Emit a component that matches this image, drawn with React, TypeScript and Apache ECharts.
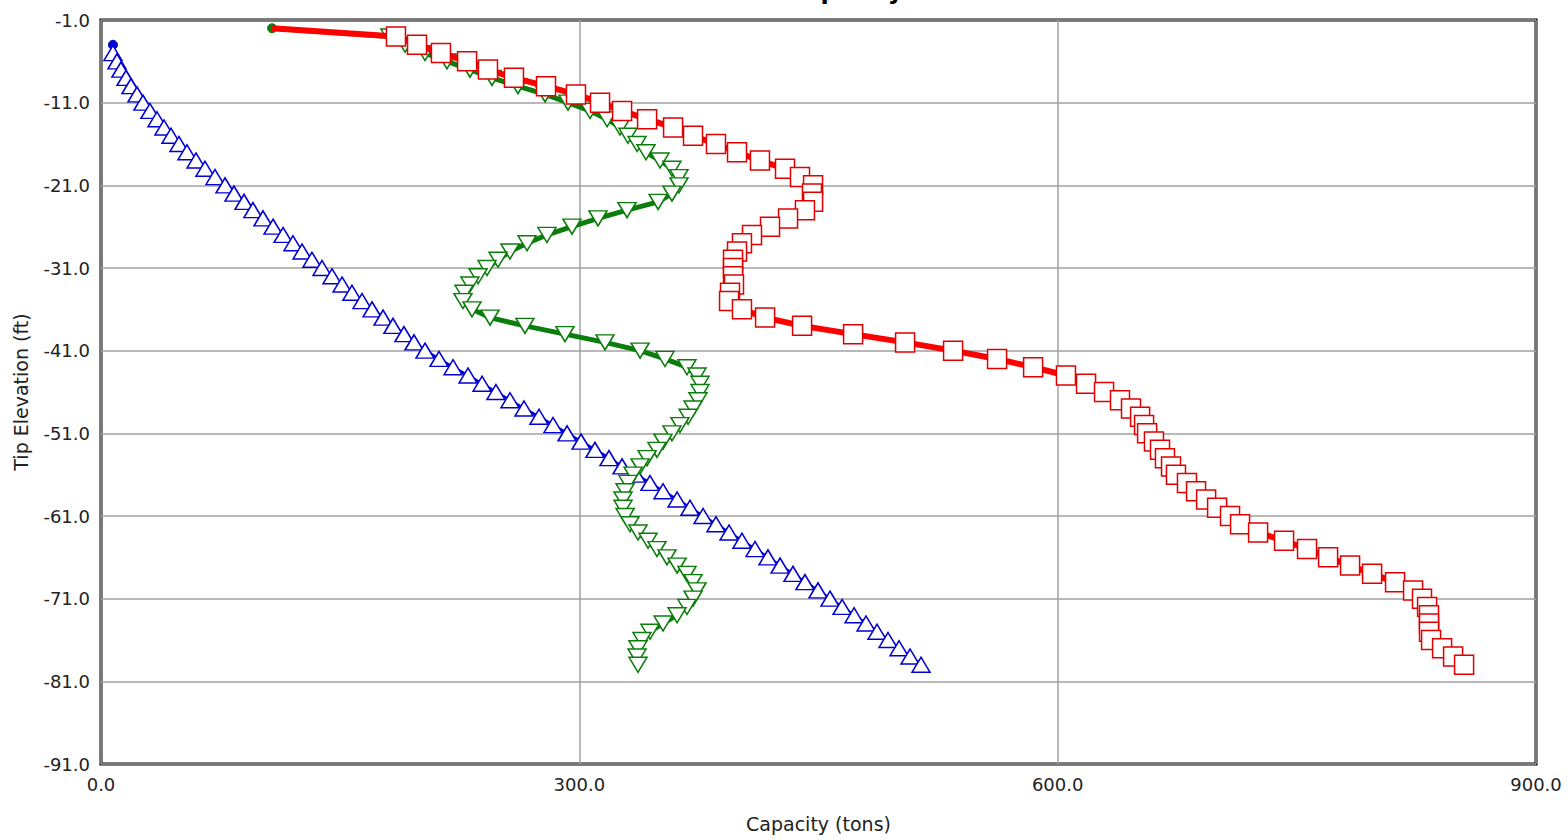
import React, { useEffect, useRef } from "react";
import * as echarts from "echarts";

// Tip elevations (ft) shared by the red and green series; blue starts at -4
const ELEVATIONS = [
  -2, -3, -4, -5, -6, -7, -8, -9, -10, -11, -12, -13, -14, -15, -16, -17, -18, -19, -20,
  -21, -22, -23, -24, -25, -26, -27, -28, -29, -30, -31, -32, -33, -34, -35, -36, -37, -38,
  -39, -40, -41, -42, -43, -44, -45, -46, -47, -48, -49, -50, -51, -52, -53, -54, -55, -56,
  -57, -58, -59, -60, -61, -62, -63, -64, -65, -66, -67, -68, -69, -70, -71, -72, -73, -74,
  -75, -76, -77, -78, -79,
];
const BLUE_ELEVATIONS = [
  -4, -5, -6, -7, -8, -9, -10, -11, -12, -13, -14, -15, -16, -17, -18, -19, -20,
  -21, -22, -23, -24, -25, -26, -27, -28, -29, -30, -31, -32, -33, -34, -35, -36, -37, -38,
  -39, -40, -41, -42, -43, -44, -45, -46, -47, -48, -49, -50, -51, -52, -53, -54, -55, -56,
  -57, -58, -59, -60, -61, -62, -63, -64, -65, -66, -67, -68, -69, -70, -71, -72, -73, -74,
  -75, -76, -77, -78, -79,
];

// Capacity (tons)
const RED_CAPACITY = [
  107.3, 185.0, 198.2, 213.2, 229.6, 242.7, 259.0, 279.1, 297.9, 313.0, 326.8, 342.5, 358.8,
  371.3, 385.7, 398.9, 413.3, 429.0, 438.4, 446.6, 445.9, 446.6, 441.5, 430.9, 419.6, 408.3,
  402.0, 398.9, 396.4, 396.4, 396.4, 397.0, 394.5, 393.9, 402.0, 416.5, 439.7, 471.7, 504.3,
  534.4, 562.0, 584.6, 605.2, 617.8, 629.1, 639.1, 646.0, 651.7, 654.2, 656.1, 660.4, 664.2,
  667.3, 671.1, 674.2, 681.1, 686.8, 693.1, 700.0, 708.1, 714.4, 725.7, 742.0, 756.4, 769.6,
  783.4, 797.2, 811.6, 822.9, 828.5, 831.7, 832.9, 832.9, 832.9, 834.2, 841.1, 848.0, 854.9,
];
const GREEN_CAPACITY = [
  107.3, 181.2, 190.7, 203.2, 217.0, 231.4, 245.2, 261.5, 278.5, 292.9, 306.7, 317.4, 325.5,
  330.5, 336.2, 341.8, 350.6, 358.1, 362.5, 362.5, 358.1, 349.4, 329.9, 311.7, 295.4, 279.7,
  267.2, 256.5, 249.0, 242.1, 236.5, 231.4, 227.7, 227.0, 232.7, 244.0, 265.9, 291.0, 316.1,
  338.1, 353.7, 367.5, 373.8, 375.7, 375.7, 374.4, 371.3, 368.2, 363.1, 358.1, 352.5, 348.7,
  342.5, 338.1, 333.7, 330.5, 328.7, 327.4, 327.4, 328.7, 331.8, 336.8, 343.1, 348.7, 355.0,
  361.3, 367.5, 371.3, 373.8, 371.3, 367.5, 361.3, 352.5, 344.3, 339.3, 336.8, 336.2, 336.8,
];
const BLUE_CAPACITY = [
  7.5, 7.5, 10.0, 12.5, 15.7, 18.8, 22.6, 26.3, 30.7, 35.1, 39.5, 43.9, 48.9, 53.9, 59.6, 65.2,
  71.5, 77.8, 83.4, 89.7, 95.3, 101.6, 107.9, 114.2, 120.4, 126.1, 132.3, 138.6, 144.9, 151.2,
  157.4, 163.7, 170.0, 176.9, 183.1, 190.0, 196.3, 203.2, 212.0, 220.8, 230.2, 239.0, 247.7,
  256.5, 265.3, 274.7, 283.5, 292.3, 301.1, 309.8, 318.6, 326.8, 335.6, 344.3, 352.5, 361.3,
  369.4, 377.6, 385.7, 393.9, 402.0, 410.2, 418.3, 425.9, 434.0, 441.5, 449.7, 457.2, 464.8,
  472.3, 479.8, 486.7, 493.6, 500.5, 507.4, 514.3,
];

const TITLE = "Total Ultimate Capacity vs Elevation";
const X_NAME = "Capacity (tons)";
const Y_NAME = "Tip Elevation (ft)";
const X_MIN = 0;
const X_MAX = 900;
const X_STEP = 300;
// elevation axis runs -91 .. -1 ft, ticks every 10 ft starting at -91
const Y_LOW = -91;
const Y_HIGH = -1;
const Y_STEP = 10;
const Y_SHIFT = 1; // plotted value = elevation + Y_SHIFT so that ticks land on multiples of Y_STEP

const RED = "#ff0000";
const GREEN = "#0a7d0a";
const BLUE = "#0000d0";
const FONT = "DejaVu Sans";

function buildData(cap: number[], elev: number[], color: string, startDot: boolean) {
  return cap.map((c, i) => {
    const v = [c, elev[i] + Y_SHIFT];
    if (i === 0) {
      return {
        value: v,
        symbol: startDot ? "circle" : "none",
        symbolSize: 9,
        symbolRotate: 0,
        itemStyle: { color, borderColor: color, borderWidth: 1 },
      };
    }
    return v;
  });
}

export default function App() {
  const ref = useRef<HTMLDivElement>(null);
  useEffect(() => {
    if (!ref.current) return;
    const chart = echarts.init(ref.current, null, { renderer: "svg" });
    const option: any = {
      animation: false,
      backgroundColor: "#ffffff",
      textStyle: { fontFamily: FONT },
      grid: {
        left: 101,
        right: 32,
        top: 20,
        bottom: 76,
        show: true,
        borderColor: "#000000",
        borderWidth: 3,
        backgroundColor: "transparent",
      },
      graphic: [
        {
          type: "text",
          x: 832,
          y: -9,
          z: 100,
          style: {
            text: TITLE,
            font: `bold 24px "${FONT}"`,
            align: "center",
            verticalAlign: "middle",
            fill: "#000000",
          },
        },
      ],
      xAxis: {
        type: "value",
        min: X_MIN,
        max: X_MAX,
        interval: X_STEP,
        name: X_NAME,
        nameLocation: "middle",
        nameGap: 50,
        nameTextStyle: { fontFamily: FONT, fontSize: 19, color: "#222" },
        axisLine: { show: false },
        axisTick: { show: false },
        axisLabel: {
          fontFamily: FONT,
          fontSize: 18,
          color: "#222",
          margin: 11,
          formatter: (v: number) => v.toFixed(1),
        },
        splitLine: { show: true, lineStyle: { color: "#a0a0a0", width: 1.5 } },
      },
      yAxis: {
        type: "value",
        min: Y_LOW + Y_SHIFT,
        max: Y_HIGH + Y_SHIFT,
        interval: Y_STEP,
        name: Y_NAME,
        nameLocation: "middle",
        nameGap: 71,
        nameTextStyle: { fontFamily: FONT, fontSize: 19, color: "#222" },
        axisLine: { show: false },
        axisTick: { show: false },
        axisLabel: {
          fontFamily: FONT,
          fontSize: 18,
          color: "#222",
          margin: 11,
          formatter: (v: number) => (v - Y_SHIFT).toFixed(1),
        },
        splitLine: { show: true, lineStyle: { color: "#a0a0a0", width: 1.5 } },
      },
      series: [
        {
          name: "Blue",
          type: "line",
          data: buildData(BLUE_CAPACITY, BLUE_ELEVATIONS, BLUE, true),
          lineStyle: { color: BLUE, width: 3 },
          symbol: "triangle",
          symbolSize: [18, 15],
          showAllSymbol: true,
          itemStyle: { color: "#ffffff", borderColor: BLUE, borderWidth: 1.5 },
          z: 2,
        },
        {
          name: "Green",
          type: "line",
          data: buildData(GREEN_CAPACITY, ELEVATIONS, GREEN, true),
          lineStyle: { color: GREEN, width: 5 },
          symbol: "triangle",
          symbolRotate: 180,
          symbolSize: [18, 15],
          showAllSymbol: true,
          itemStyle: { color: "#ffffff", borderColor: GREEN, borderWidth: 1.5 },
          z: 3,
        },
        {
          name: "Red",
          type: "line",
          data: buildData(RED_CAPACITY, ELEVATIONS, RED, false),
          lineStyle: { color: RED, width: 6 },
          symbol: "rect",
          symbolSize: 19,
          showAllSymbol: true,
          itemStyle: { color: "#ffffff", borderColor: "#e00000", borderWidth: 1.5 },
          z: 4,
        },
      ],
    };
    chart.setOption(option);
    return () => chart.dispose();
  }, []);
  return (
    <div
      ref={ref}
      style={{ position: "fixed", left: 0, top: 0, width: 1568, height: 840, background: "#fff" }}
    />
  );
}
